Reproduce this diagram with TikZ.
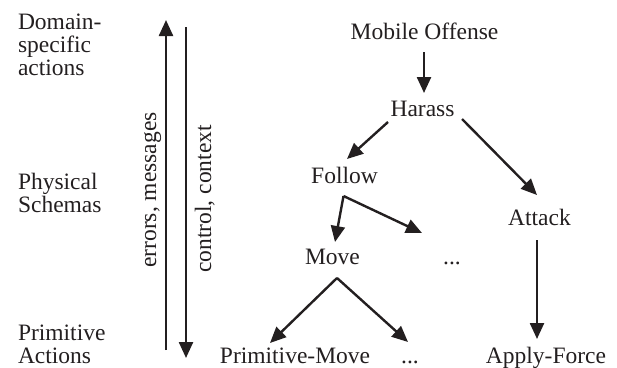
\documentclass[tikz,border=0pt]{standalone}
\usepackage{fontspec}
\setmainfont{Liberation Serif}
\usetikzlibrary{arrows.meta,calc}
\definecolor{ink}{RGB}{35,31,32}
\begin{document}
\begin{tikzpicture}[x=1pt,y=-1pt,
  every node/.style={inner sep=0pt,outer sep=0pt,text=ink,font=\fontsize{23.5}{23.5}\selectfont},
  lbl/.style={anchor=base},
  side/.style={anchor=base west},
  arr/.style={draw=ink,line width=2.4pt,-{Triangle[length=16pt,width=14pt]}}]
\useasboundingbox (0,0) rectangle (617,367);
% left level labels
\node[side] (d1) at (18,29) {Domain-};
\node[side] (d2) at (18,52) {specific};
\node[side] (d3) at (18,75) {actions};
\node[side] (p1) at (18,189) {Physical};
\node[side] (p2) at (18,212) {Schemas};
\node[side] (a1) at (18,340) {Primitive};
\node[side] (a2) at (18,363) {Actions};
% vertical arrows
\coordinate (upS) at (166,350);
\coordinate (upE) at (166,20);
\coordinate (dnS) at (186,27);
\coordinate (dnE) at (186,358);
\draw[arr] (upS) -- (upE);
\draw[arr] (dnS) -- (dnE);
\node[rotate=90,anchor=base] (em) at (156,190) {errors, messages};
\node[rotate=90,anchor=base] (cc) at (211,199) {control, context};
% tree nodes
\node[lbl] (mo) at (424.5,39) {Mobile Offense};
\node[lbl] (har) at (422.5,116) {Harass};
\node[lbl] (fol) at (344.5,183) {Follow};
\node[lbl] (att) at (539.5,225) {Attack};
\node[lbl] (mov) at (332.5,264) {Move};
\node[lbl] (dA) at (452,264) {...};
\node[lbl] (pm) at (295,363) {Primitive-Move};
\node[lbl] (dB) at (410,363) {...};
\node[lbl] (af) at (546,363) {Apply-Force};
% connectors
\draw[arr] ($(mo.base)+(-0.5,13)$) -- ($(har.base)+(1.5,-23)$);
\draw[arr] ($(har.base)+(-34.5,6)$) -- ($(fol.base)+(2.5,-24)$);
\draw[arr] ($(har.base)+(39.5,3)$) -- ($(att.base)+(-2.5,-30)$);
\coordinate (fb) at ($(fol.base)+(-1,13)$);
\draw[arr] (fb) -- ($(mov.base)+(2.5,-22)$);
\draw[arr] (fb) -- ($(dA.base)+(-30,-31)$);
\draw[arr] ($(att.base)+(-2.5,15)$) -- ($(af.base)+(-9,-24)$);
\coordinate (mb) at ($(mov.base)+(4.5,14)$);
\draw[arr] (mb) -- ($(pm.base)+(-25,-20)$);
\draw[arr] (mb) -- ($(dB.base)+(-2,-21)$);
\end{tikzpicture}
\end{document}
